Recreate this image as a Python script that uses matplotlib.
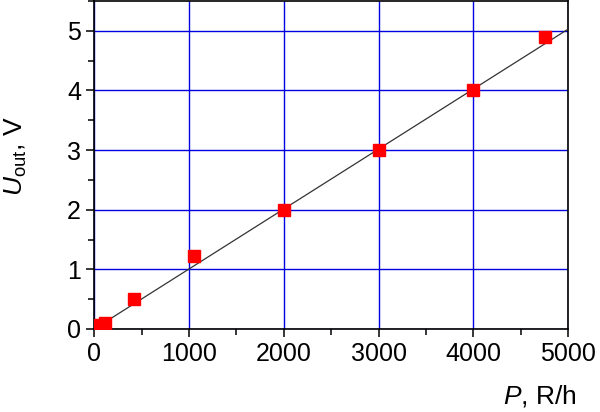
import matplotlib.pyplot as plt
from matplotlib.ticker import MultipleLocator

# measured points
dose_rate = [60, 110, 420, 1050, 2000, 3000, 4000, 4760]
u_out = [0.06, 0.1, 0.5, 1.22, 2.0, 3.0, 4.0, 4.9]
# linear fit line
fit_x = [0, 5000]
fit_y = [0, 5.03]

plt.rcParams['font.family'] = ['Liberation Sans', 'DejaVu Sans']
plt.rcParams['mathtext.fontset'] = 'custom'
plt.rcParams['mathtext.rm'] = 'Liberation Sans'
plt.rcParams['mathtext.it'] = 'Liberation Sans:italic'

fig = plt.figure(figsize=(6, 4.12), dpi=100)
ax = fig.add_axes([0.157, 0.2015, 0.79, 0.796])

ax.grid(True, color='#0000e0', linewidth=1.0)
ax.set_axisbelow(True)
ax.plot(fit_x, fit_y, color='#333333', linewidth=0.9, zorder=3)
ax.plot(dose_rate, u_out, 's', color='#ff0000', markersize=8.5, zorder=4)

ax.set_xlim(0, 5000)
ax.set_ylim(0, 5.5)
ax.xaxis.set_major_locator(MultipleLocator(1000))
ax.xaxis.set_minor_locator(MultipleLocator(500))
ax.yaxis.set_major_locator(MultipleLocator(1))
ax.yaxis.set_minor_locator(MultipleLocator(0.5))
ax.tick_params(which='both', direction='out', width=1.1, labelsize=18)
ax.tick_params(which='major', length=6)
ax.tick_params(which='minor', length=4)
for s in ax.spines.values():
    s.set_linewidth(1.2)

ax.set_xlabel(r'$P$, R/h', fontsize=19)
ax.xaxis.set_label_coords(1.017, -0.165)
ax.xaxis.label.set_ha('right')
ax.set_ylabel(r'$U_{\rm out}$, V', fontsize=19)
ax.yaxis.set_label_coords(-0.137, 0.527)

fig.savefig('out.png', dpi=100)
